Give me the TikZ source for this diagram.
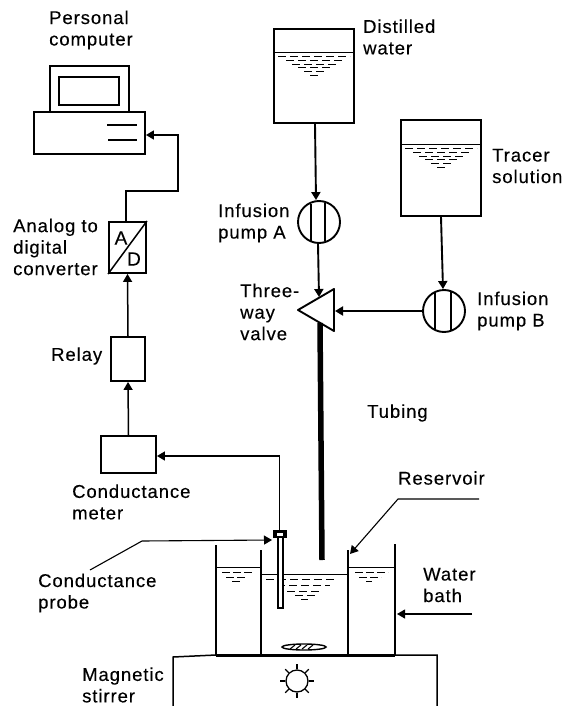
\documentclass[tikz,border=0pt]{standalone}
\usepackage{fontspec}
\setmainfont[LetterSpace=5,FakeBold=0.25]{Liberation Sans}
\usetikzlibrary{arrows.meta,calc}
\tikzset{
  line/.style={line width=1.9pt,black},
  flow/.style={line, -{Triangle[length=8pt,width=9pt]}},
  thinflow/.style={line width=1.5pt, -{Triangle[length=8pt,width=9pt]}},
  boxn/.style={draw,line width=1.9pt,rectangle,inner sep=0pt},
  pumpn/.style={draw,line width=1.9pt,circle,inner sep=0pt,minimum size=42pt},
  lab/.style={anchor=west,align=left,inner sep=0pt,font=\fontsize{18.5}{21.5}\selectfont},
  water/.style={line width=1pt,dash pattern=on 8pt off 4pt},
}
\newcommand{\tankwater}[2]{%
  \draw[water] (#1-36,#2+4) -- (#1+36,#2+4);
  \draw[water] (#1-28,#2+8) -- (#1+28,#2+8);
  \draw[water] (#1-22,#2+12) -- (#1+22,#2+12);
  \draw[water] (#1-16,#2+15) -- (#1+16,#2+15);
  \draw[water] (#1-10,#2+19) -- (#1+10,#2+19);
  \draw[line width=1pt] (#1-4,#2+23) -- (#1+4,#2+23);}
\begin{document}
\begin{tikzpicture}[x=1pt,y=-1pt]
\useasboundingbox (0,0) rectangle (564,706);
% computer
\node[boxn,minimum width=79pt,minimum height=46pt] (monitor) at (89.5,89) {};
\node[draw,line width=1.4pt,inner sep=0pt,minimum width=60pt,minimum height=28pt] (screen) at (89,91) {};
\node[boxn,minimum width=111pt,minimum height=42pt] (pc) at (89.5,133) {};
\draw[line width=2.8pt] (107,125) -- (137,125) (108,140) -- (137,140);
% signal chain
\node[boxn,minimum width=37pt,minimum height=51pt] (adc) at (127.5,247.5) {};
\draw[line width=1.5pt] (adc.south west) -- (adc.north east);
\node[inner sep=0pt,font=\fontsize{19}{19}\selectfont] (adcA) at (121,238) {A};
\node[inner sep=0pt,font=\fontsize{19}{19}\selectfont] (adcD) at (134,259) {D};
\node[boxn,minimum width=34pt,minimum height=44pt] (relay) at (128,359) {};
\node[boxn,minimum width=55pt,minimum height=37pt] (meter) at (128.5,454.5) {};
\coordinate (bendA) at (126,191);
\coordinate (bendB) at (178,191);
\coordinate (bendC) at (178,135);
\draw[flow,line width=1.6pt] ([xshift=-1.5pt]adc.north) -- (bendA) -- (bendB) -- (bendC) -- (pc.east |- bendC);
\draw[thinflow] (relay.north) -- (adc.south);
\draw[thinflow] (meter.north) -- (relay.south);
% tanks
\node[boxn,minimum width=80pt,minimum height=94pt] (dist) at (314,76) {};
\draw[line width=1pt] (274,53) -- (354,53);
\tankwater{314}{53}
\node[boxn,minimum width=80pt,minimum height=96pt] (tracer) at (441,168) {};
\draw[line width=1pt] (401,144) -- (481,144);
\tankwater{441}{144}
% pumps
\node[pumpn] (pumpA) at (319,222) {};
\draw[line width=1.4pt] (311,203.5) -- (311,240.5) (325,203) -- (325,241);
\node[pumpn] (pumpB) at (444,311) {};
\draw[line width=1.4pt] (435,292) -- (435,330) (451,292) -- (451,330);
% valve
\draw[line width=1.9pt,line join=round] (298,310) -- (334,289) -- (334,331) -- cycle;
\coordinate (valveTop) at (319,297);
\coordinate (valveRight) at (335,311);
\coordinate (valveBottom) at (320,323);
\coordinate (tubeEnd) at (322,560);
\draw[flow] ([xshift=-1pt]pumpA.south) -- (valveTop);
\draw[flow] ([xshift=1pt]dist.south) -- ([xshift=-3pt]pumpA.north);
\draw[flow] ([xshift=0pt]tracer.south) -- ([xshift=-1pt]pumpB.north);
\draw[flow] (pumpB.west) -- (valveRight);
\draw[line width=5.5pt] (valveBottom) -- (tubeEnd);
% bath and stirrer
\draw[line width=1.5pt] (173,706) -- (173,657) -- (216,655) -- (437,655) -- (437,706);
\draw[line width=3pt] (216,655) -- (395,655);
\draw[line width=1.7pt] (216,545) -- (216,655) (261,550) -- (261,655) (348,550) -- (348,655) (395,544) -- (395,655);
\draw[line width=1pt] (216,567) -- (261,567) (261,574) -- (348,574) (348,567) -- (395,567);
\draw[water,dash pattern=on 8pt off 3pt] (222,572) -- (253,572) (226,577) -- (247,577) (355,572) -- (388,572) (359,577) -- (381,577);
\draw[line width=1pt] (232,581) -- (240,581) (366,581) -- (372,581);
\draw[water,dash pattern=on 8pt off 4pt] (266,579) -- (335,579) (277,585) -- (330,585) (287,591) -- (322,591) (295,595) -- (316,595);
\draw[line width=1pt] (301,599) -- (308,599);
% probe
\node[fill=white,draw,line width=1.4pt,inner sep=0pt,minimum width=5pt,minimum height=71pt] (probe) at (280.5,572.5) {};
\node[fill=black,inner sep=0pt,minimum width=14pt,minimum height=8pt] (cap) at (280,534) {};
\fill[white] (277,532.5) rectangle (283,535.5);
\coordinate (meterBend) at (279.5,456);
\draw[thinflow] ([xshift=-0.5pt]cap.north) -- (meterBend) -- (meter.east |- meterBend);
% stir bar
\draw[line width=1.4pt] (304,647) ellipse [x radius=22,y radius=3];
\draw[line width=1.1pt] (290,649) -- (295,645) (296,649) -- (301,645) (302,649) -- (307,645) (308,649) -- (313,645);
% stirrer symbol
\node[draw,circle,line width=1.3pt,inner sep=0pt,minimum size=22pt] (rotor) at (297,681) {};
\foreach \a in {0,45,...,315}
  \draw[line width=1.2pt] (rotor.\a) -- ++(-\a:5);
% leaders
\coordinate (probeLeadA) at (90,570);
\coordinate (probeLeadB) at (142,541);
\coordinate (probeLeadC) at (272,540);
\draw[thinflow,line width=1.1pt] (probeLeadA) -- (probeLeadB) -- (probeLeadC);
\coordinate (resLeadA) at (479,499);
\coordinate (resLeadB) at (398,499);
\coordinate (resLeadC) at (350,554);
\draw[thinflow,line width=1.1pt] (resLeadA) -- (resLeadB) -- (resLeadC);
\coordinate (bathLeadA) at (472,614);
\coordinate (bathLeadB) at (397,614);
\draw[thinflow,line width=1.1pt] (bathLeadA) -- (bathLeadB);
% labels
\node[lab] (tPC) at (49,30) {Personal\\computer};
\node[lab] (tDW) at (363,37) {Distilled\\water};
\node[lab] (tTS) at (492,166) {Tracer\\solution};
\node[lab] (tPA) at (218,223) {Infusion\\pump A};
\node[lab] (tTV) at (240,312) {Three-\\way\\valve};
\node[lab] (tPB) at (477,311) {Infusion\\pump B};
\node[lab] (tTub) at (367,413) {Tubing};
\node[lab] (tRes) at (398,478) {Reservoir};
\node[lab] (tWB) at (423,585) {Water\\bath};
\node[lab] (tADC) at (13,247) {Analog to\\digital\\converter};
\node[lab] (tRel) at (51,356) {Relay};
\node[lab] (tCM) at (72,502) {Conductance\\meter};
\node[lab] (tCP) at (38,593) {Conductance\\probe};
\node[lab] (tMS) at (82,685) {Magnetic\\stirrer};
\end{tikzpicture}
\end{document}
